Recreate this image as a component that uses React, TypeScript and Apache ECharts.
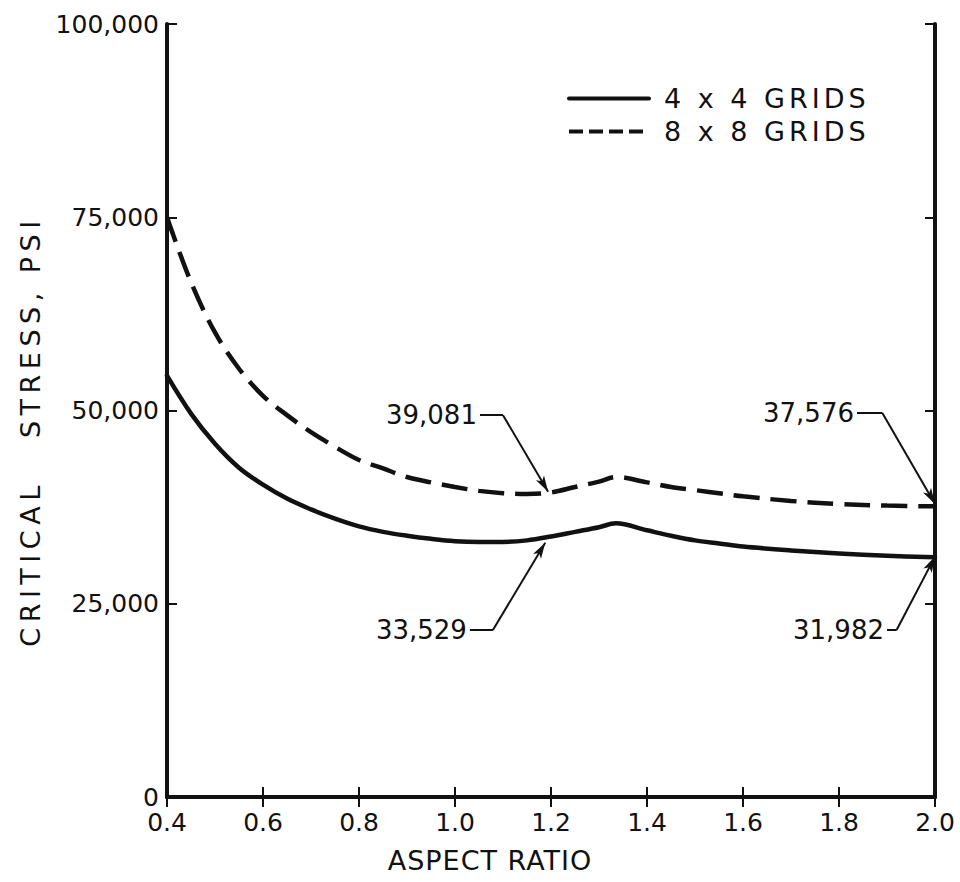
import React, { useEffect, useRef } from "react";
import * as echarts from "echarts";

const FONT = "DejaVu Sans";
const INK = "#111111";

// Aspect ratio samples and critical stress (psi) for the 4 x 4 grid solution
const aspect4 = [0.4, 0.45, 0.5, 0.55, 0.6, 0.65, 0.7, 0.75, 0.8, 0.85, 0.9, 0.95, 1.0, 1.05, 1.1, 1.15, 1.2, 1.25, 1.3, 1.335, 1.4, 1.45, 1.5, 1.55, 1.6, 1.7, 1.8, 1.9, 2.0];
const stress4 = [54500, 49600, 45700, 42600, 40400, 38600, 37200, 36000, 35000, 34300, 33800, 33400, 33100, 33000, 33000, 33200, 33700, 34300, 34900, 35400, 34500, 33800, 33200, 32800, 32400, 31900, 31500, 31200, 31000];

// Aspect ratio samples and critical stress (psi) for the 8 x 8 grid solution
const aspect8 = [0.4, 0.45, 0.5, 0.55, 0.6, 0.65, 0.7, 0.75, 0.8, 0.85, 0.9, 0.95, 1.0, 1.05, 1.1, 1.15, 1.2, 1.25, 1.3, 1.335, 1.4, 1.45, 1.5, 1.55, 1.6, 1.7, 1.8, 1.9, 2.0];
const stress8 = [75000, 66600, 60100, 55400, 51900, 49400, 47200, 45300, 43600, 42500, 41400, 40700, 40100, 39600, 39300, 39200, 39400, 40100, 40800, 41400, 40700, 40100, 39700, 39300, 38900, 38300, 37900, 37700, 37600];

const seriesNames = ["4 x 4 GRIDS", "8 x 8 GRIDS"];

// Annotations: label text, leader start, elbow and arrow tip (data units)
const noteLabels = ["39,081", "33,529", "37,576", "31,982"];
const noteStart = [[1.052, 49400], [1.031, 21600], [1.8375, 49700], [1.9, 21600]];
const noteElbow = [[1.1, 49400], [1.079, 21600], [1.89, 49700], [1.92, 21600]];
const noteTip = [[1.194, 39500], [1.188, 32900], [2.0, 37900], [2.0, 31100]];

const xMin = 0.4;
const xMax = 2.0;
const xStep = 0.2;
const yMin = 0;
const yMax = 100000;
const yStep = 25000;

const xTitle = "ASPECT RATIO";
const yTitle = "CRITICAL\u00a0\u00a0\u00a0STRESS,\u00a0PSI";

export default function App() {
  const ref = useRef<HTMLDivElement>(null);

  useEffect(() => {
    if (!ref.current) return;
    const chart = echarts.init(ref.current, undefined, { renderer: "svg" });

    const axisLine = { show: true, lineStyle: { color: INK, width: 4 } };
    const axisTick = { show: true, inside: true, length: 10, lineStyle: { color: INK, width: 2 } };
    const labelStyle = { color: INK, fontFamily: FONT };

    const xBase = { type: "value", min: xMin, max: xMax, interval: xStep, splitLine: { show: false }, axisLine, axisTick };
    const yBase = { type: "value", min: yMin, max: yMax, interval: yStep, splitLine: { show: false }, axisLine, axisTick };

    chart.setOption({
      animation: false,
      backgroundColor: "#ffffff",
      grid: { left: 167, right: 25, top: 24, bottom: 85, containLabel: false, outerBoundsMode: "none" },
      xAxis: [
        { ...xBase, position: "bottom", axisLabel: { ...labelStyle, fontSize: 25, lineHeight: 25, margin: 13, formatter: (v: number) => v.toFixed(1) } },
        { ...xBase, position: "top", axisLabel: { show: false } },
      ],
      yAxis: [
        { ...yBase, position: "left", axisLabel: { ...labelStyle, fontSize: 25, lineHeight: 22, margin: 8, formatter: (v: number) => v.toLocaleString("en-US") } },
        { ...yBase, position: "right", axisLabel: { show: false } },
      ],
      legend: {
        orient: "vertical",
        left: 562,
        top: 80,
        itemWidth: 80,
        itemHeight: 14,
        itemGap: 6,
        textStyle: { color: INK, fontSize: 27, fontFamily: FONT, padding: [0, 0, 0, 10] },
        data: [
          { name: seriesNames[0], itemStyle: { opacity: 0 }, lineStyle: { type: "solid", width: 4 } },
          { name: seriesNames[1], itemStyle: { opacity: 0 }, lineStyle: { type: [14, 6], width: 4 } },
        ],
      },
      graphic: [
        {
          type: "text",
          x: 490,
          y: 860,
          style: { text: xTitle, fill: INK, fontSize: 27, fontFamily: FONT, textAlign: "center", textVerticalAlign: "middle", align: "center", verticalAlign: "middle" },
        },
        {
          type: "text",
          x: 30,
          y: 431,
          rotation: Math.PI / 2,
          style: { text: yTitle, fill: INK, fontSize: 27, fontFamily: FONT, textAlign: "center", textVerticalAlign: "middle", align: "center", verticalAlign: "middle" },
        },
      ],
      series: [
        {
          name: seriesNames[0],
          type: "line",
          symbol: "none",
          smooth: 0.35,
          lineStyle: { color: INK, width: 4.5, type: "solid", cap: "round", join: "round" },
          itemStyle: { color: INK },
          data: aspect4.map((x, i) => [x, stress4[i]]),
        },
        {
          name: seriesNames[1],
          type: "line",
          symbol: "none",
          smooth: 0.35,
          lineStyle: { color: INK, width: 4.5, type: [26, 11] },
          itemStyle: { color: INK },
          data: aspect8.map((x, i) => [x, stress8[i]]),
        },
        {
          name: "notes",
          type: "scatter",
          symbolSize: 0,
          silent: true,
          itemStyle: { color: INK },
          label: { show: true, position: "left", distance: 3, formatter: "{b}", color: INK, opacity: 1, fontSize: 26, fontFamily: FONT },
          data: noteLabels.map((t, i) => ({ name: t, value: noteStart[i] })),
          markLine: {
            silent: true,
            symbolSize: [7, 16],
            label: { show: false },
            lineStyle: { color: INK, width: 2, type: "solid", opacity: 1 },
            emphasis: { disabled: true },
            data: noteLabels.flatMap((_, i) => [
              [
                { coord: noteStart[i], symbol: "none" },
                { coord: noteElbow[i], symbol: "none" },
              ],
              [
                { coord: noteElbow[i], symbol: "none" },
                { coord: noteTip[i], symbol: "arrow" },
              ],
            ]),
          },
        },
      ],
    });

    // Hand-lettered wide spacing of the original titles
    const spacing: Record<string, string> = {
      [yTitle]: "5.5px",
      [xTitle]: "1px",
      [seriesNames[0]]: "4px",
      [seriesNames[1]]: "4px",
    };
    ref.current.querySelectorAll("text").forEach((el) => {
      const s = spacing[el.textContent ?? ""];
      if (s) (el as SVGTextElement).style.letterSpacing = s;
    });

    return () => chart.dispose();
  }, []);

  return <div ref={ref} style={{ position: "fixed", left: 0, top: 0, width: 960, height: 882 }} />;
}
